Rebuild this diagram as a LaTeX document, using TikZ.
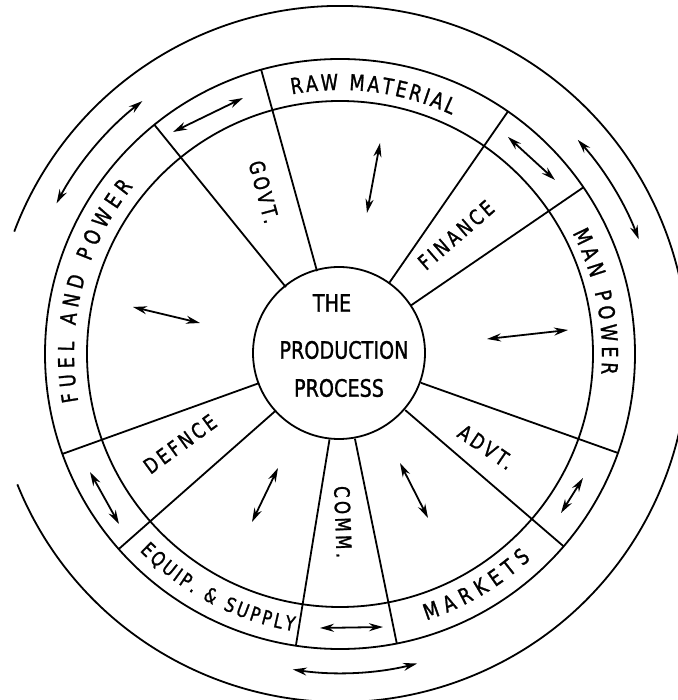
\documentclass[tikz,border=0pt]{standalone}
\usepackage{fontspec}
\setmainfont{DejaVu Sans}[FakeStretch=0.8,FakeBold=1.2]
\newfontfamily\spacedfont{DejaVu Sans}[FakeStretch=0.8,FakeBold=1.2,LetterSpace=15]
\usetikzlibrary{arrows.meta,decorations.text}

\newcommand{\ringfont}{\fontsize{22}{22}\selectfont}
\newcommand{\smallringfont}{\fontsize{20}{20}\selectfont}
\newcommand{\labelfont}{\spacedfont\fontsize{21}{21}\selectfont}
\newcommand{\corefont}{\fontsize{24}{24}\selectfont}

\tikzset{
  wheel/.style={line width=1.8pt},
  flow/.style={line width=1.8pt, {Stealth[length=14pt,width=8pt]}-{Stealth[length=14pt,width=8pt]}},
  sector/.style={font=\labelfont, inner sep=0pt},
  ringtext/.style={decorate, decoration={text along path, text align={fit to path}, text={|\ringfont|#1}}},
  smallringtext/.style={decorate, decoration={text along path, text align={fit to path}, text={|\smallringfont|#1}}},
}

\begin{document}
\begin{tikzpicture}[x=1pt,y=1pt]
        \useasboundingbox (-340,-346) rectangle (337,354);

        % Coordinates
        \coordinate (raw1) at (40,211);
        \coordinate (raw2) at (27,141);
        \coordinate (man1) at (147,15);
        \coordinate (man2) at (228,24);
        \coordinate (fuel1) at (-207,47);
        \coordinate (fuel2) at (-140,31);
        \coordinate (mkt1) at (60,-109);
        \coordinate (mkt2) at (88,-164);
        \coordinate (eqp1) at (-62,-114);
        \coordinate (eqp2) at (-88,-168);
        \coordinate (govA) at (-167,222);
        \coordinate (govB) at (-97,256);
        \coordinate (finA) at (168,217);
        \coordinate (finB) at (215,174);
        \coordinate (advA) at (243,-124);
        \coordinate (advB) at (221,-159);
        \coordinate (comA) at (-20,-274);
        \coordinate (comB) at (43,-273);
        \coordinate (defA) at (-250,-118);
        \coordinate (defB) at (-221,-170);

        % Wheel
        \draw[wheel] (-1,1) circle[radius=86];
        \draw[wheel] (0,0) circle[radius=253];
        \draw[wheel] (0,0) circle[radius=295];
        \draw[wheel] (202:348) arc[start angle=202, end angle=519.4, radius=348];

        % Spokes
        \draw[wheel] (129:86) -- (129:295);
        \draw[wheel] (105.5:86) -- (105.5:295);
        \draw[wheel] (55.3:86) -- (55.3:295);
        \draw[wheel] (34.4:86) -- (34.4:295);
        \draw[wheel] (-19.6:86) -- (-19.6:295);
        \draw[wheel] (-40.7:86) -- (-40.7:295);
        \draw[wheel] (-80:86) -- (-78.9:295);
        \draw[wheel] (-97:86) -- (-98.6:295);
        \draw[wheel] (221.4:86) -- (221.4:295);
        \draw[wheel] (199.8:86) -- (199.8:295);

        % Centre
        \node[font=\corefont, inner sep=0pt] (the) at (-8,51) {THE};
        \node[font=\corefont, inner sep=0pt] (production) at (4,4) {PRODUCTION};
        \node[font=\corefont, inner sep=0pt] (process) at (-1,-34) {PROCESS};

        % Inner sectors
        \node[sector, rotate=-75] (govt) at (-76,162) {GOVT.};
        \node[sector, rotate=41] (finance) at (116,119) {FINANCE};
        \node[sector, rotate=-34] (advt) at (146,-93) {ADVT.};
        \node[sector, rotate=-88] (comm) at (3,-168) {COMM.};
        \node[sector, rotate=36] (defnce) at (-160,-90) {DEFNCE};

        % Ring labels
        \path[ringtext={RAW MATERIAL}] (100.5:264) arc[start angle=100.5, end angle=65, radius=264];
        \path[ringtext={MAN POWER}] (27.5:262) arc[start angle=27.5, end angle=-4.4, radius=262];
        \path[ringtext={FUEL AND POWER}] (190.3:266) arc[start angle=190.3, end angle=141, radius=266];
        \path[ringtext={MARKETS}] (-72:280) arc[start angle=-72, end angle=-47, radius=280];
        \path[smallringtext={EQUIP. {\&} SUPPLY}] (224.5:281) arc[start angle=224.5, end angle=260.5, radius=281];

        % Arrows
        \draw[flow] (raw1) -- (raw2);
        \draw[flow] (man1) -- (man2);
        \draw[flow] (fuel1) -- (fuel2);
        \draw[flow] (mkt1) -- (mkt2);
        \draw[flow] (eqp1) -- (eqp2);
        \draw[flow] (govA) -- (govB);
        \draw[flow] (finA) -- (finB);
        \draw[flow] (advA) -- (advB);
        \draw[flow] (comA) -- (comB);
        \draw[flow] (defA) -- (defB);
        \draw[flow] (152:321) arc[start angle=152, end angle=128, radius=321];
        \draw[flow] (42:320) arc[start angle=42, end angle=21, radius=320];
        \draw[flow] (261.5:319) arc[start angle=261.5, end angle=284, radius=319];
\end{tikzpicture}
\end{document}
